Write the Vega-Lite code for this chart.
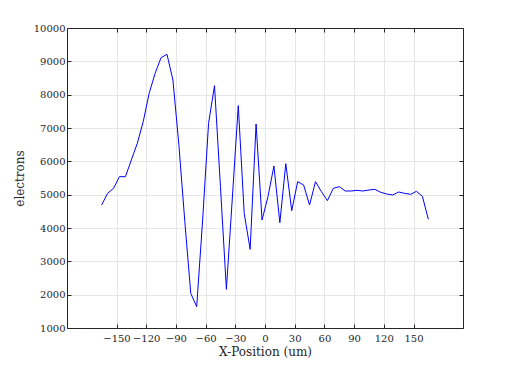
{
  "$schema": "https://vega.github.io/schema/vega-lite/v6.json",
  "width": 396,
  "height": 300,
  "autosize": {"type": "none"},
  "padding": {"left": 67, "top": 28, "right": 49, "bottom": 41},
  "background": "white",
  "config": {
    "view": {"stroke": null},
    "font": "DejaVu Serif",
    "axis": {"labelFont": "DejaVu Serif", "titleFont": "DejaVu Serif"}
  },
  "data": {"values": [
    {"x": -165, "y": 4690}, {"x": -159, "y": 5040}, {"x": -153, "y": 5190}, {"x": -147, "y": 5540},
    {"x": -141, "y": 5540}, {"x": -135, "y": 6040}, {"x": -129, "y": 6540}, {"x": -123, "y": 7190},
    {"x": -117, "y": 8040}, {"x": -111, "y": 8640}, {"x": -105, "y": 9110}, {"x": -99, "y": 9210},
    {"x": -93, "y": 8440}, {"x": -87, "y": 6500}, {"x": -81, "y": 4200}, {"x": -75, "y": 2040},
    {"x": -69, "y": 1640}, {"x": -63, "y": 4240}, {"x": -57, "y": 7140}, {"x": -51, "y": 8270},
    {"x": -45, "y": 5240}, {"x": -39, "y": 2160}, {"x": -33, "y": 4900}, {"x": -27, "y": 7670},
    {"x": -21, "y": 4440}, {"x": -15, "y": 3360}, {"x": -9, "y": 7120}, {"x": -3, "y": 4240},
    {"x": 3, "y": 4940}, {"x": 9, "y": 5860}, {"x": 15, "y": 4160}, {"x": 21, "y": 5930},
    {"x": 27, "y": 4520}, {"x": 33, "y": 5390}, {"x": 39, "y": 5290}, {"x": 45, "y": 4690},
    {"x": 51, "y": 5390}, {"x": 57, "y": 5090}, {"x": 63, "y": 4820}, {"x": 69, "y": 5190},
    {"x": 75, "y": 5240}, {"x": 81, "y": 5110}, {"x": 87, "y": 5110}, {"x": 93, "y": 5130},
    {"x": 99, "y": 5110}, {"x": 105, "y": 5140}, {"x": 111, "y": 5160}, {"x": 117, "y": 5070},
    {"x": 123, "y": 5020}, {"x": 129, "y": 4990}, {"x": 135, "y": 5080}, {"x": 141, "y": 5040},
    {"x": 147, "y": 5010}, {"x": 153, "y": 5100}, {"x": 159, "y": 4950}, {"x": 165, "y": 4260}
  ]},
  "layer": [
    {
      "mark": {"type": "line", "color": "#0000ff", "strokeWidth": 1},
      "encoding": {
        "x": {
          "field": "x", "type": "quantitative",
          "scale": {"domain": [-200, 200], "nice": false, "zero": false},
          "axis": {
            "orient": "bottom",
            "values": [-150, -120, -90, -60, -30, 0, 30, 60, 90, 120, 150],
            "format": "d",
            "title": "X-Position (um)",
            "titleFontSize": 12, "titleFontWeight": "normal", "titleColor": "#262626",
            "titlePadding": 3,
            "labelFontSize": 10, "labelColor": "#262626",
            "labelPadding": 9,
            "tickSize": -4, "tickColor": "#262626",
            "domainColor": "#262626",
            "gridColor": "#e6e6e6", "grid": true
          }
        },
        "y": {
          "field": "y", "type": "quantitative",
          "scale": {"domain": [1000, 10000], "nice": false, "zero": false},
          "axis": {
            "orient": "left",
            "values": [1000, 2000, 3000, 4000, 5000, 6000, 7000, 8000, 9000, 10000],
            "format": "d",
            "title": "electrons",
            "titleFontSize": 12, "titleFontWeight": "normal", "titleColor": "#262626",
            "titlePadding": 7,
            "labelFontSize": 10, "labelColor": "#262626",
            "labelPadding": 6,
            "tickSize": -4, "tickColor": "#262626",
            "domainColor": "#262626",
            "gridColor": "#e6e6e6", "grid": true
          }
        }
      }
    },
    {
      "mark": {"type": "line", "opacity": 0},
      "encoding": {
        "x": {
          "field": "x", "type": "quantitative",
          "scale": {"domain": [-200, 200], "nice": false, "zero": false},
          "axis": {"orient": "top", "values": [-150, -120, -90, -60, -30, 0, 30, 60, 90, 120, 150],
            "title": null, "labels": false, "grid": false, "tickSize": -4, "tickColor": "#262626", "domainColor": "#262626"}
        },
        "y": {
          "field": "y", "type": "quantitative",
          "scale": {"domain": [1000, 10000], "nice": false, "zero": false},
          "axis": {"orient": "right", "values": [1000, 2000, 3000, 4000, 5000, 6000, 7000, 8000, 9000, 10000],
            "title": null, "labels": false, "grid": false, "tickSize": -4, "tickColor": "#262626", "domainColor": "#262626"}
        }
      }
    }
  ],
  "resolve": {"scale": {"x": "independent", "y": "independent"}}
}
